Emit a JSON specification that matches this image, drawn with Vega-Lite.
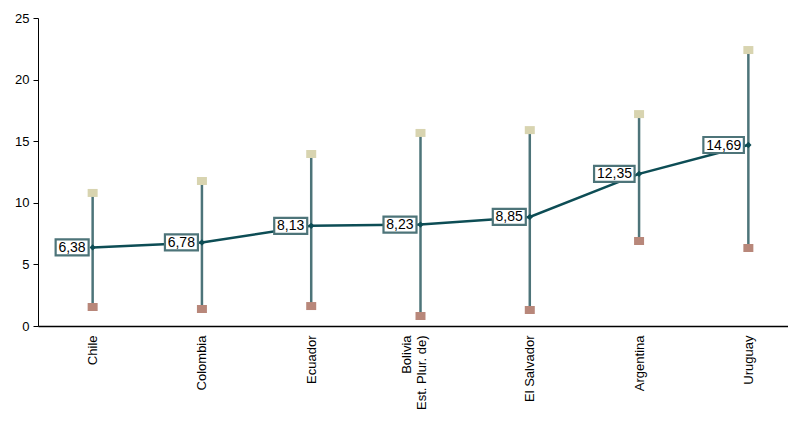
{
  "$schema": "https://vega.github.io/schema/vega-lite/v6.json",
  "width": 765,
  "height": 308,
  "autosize": {"type": "none"},
  "padding": {"left": 38, "top": 18, "right": 0, "bottom": 96},
  "background": "white",
  "config": {
    "view": {"stroke": null},
    "font": "Liberation Sans",
    "locale": {"number": {"decimal": ",", "thousands": ".", "grouping": [3], "currency": ["", ""]}}
  },
  "data": {
    "values": [
      {"country": "Chile", "value": 6.38, "min": 1.54, "max": 10.8},
      {"country": "Colombia", "value": 6.78, "min": 1.38, "max": 11.77},
      {"country": "Ecuador", "value": 8.13, "min": 1.62, "max": 13.96},
      {"country": "Bolivia\nEst. Plur. de)", "value": 8.23, "min": 0.81, "max": 15.67},
      {"country": "El Salvador", "value": 8.85, "min": 1.3, "max": 15.9},
      {"country": "Argentina", "value": 12.35, "min": 6.9, "max": 17.2},
      {"country": "Uruguay", "value": 14.69, "min": 6.33, "max": 22.4}
    ]
  },
  "encoding": {
    "x": {
      "field": "country", "type": "nominal", "sort": null,
      "scale": {"type": "point", "padding": 0.5},
      "axis": {"title": null, "labelAngle": -90, "ticks": false, "labelPadding": 9, "labelFontSize": 13, "labelColor": "#000", "domainColor": "#000", "domainWidth": 1.5, "labelLineHeight": 15, "labelLimit": 200, "labelExpr": "split(datum.label, '\\n')",
        "labelOffset": {"condition": {"test": "indexof(datum.value, 'Bolivia') >= 0", "value": -14}, "value": 0}}
    },
    "y": {"field": "value", "type": "quantitative", "scale": {"domain": [0, 25], "nice": false, "zero": true},
      "axis": {"title": null, "values": [0, 5, 10, 15, 20, 25], "grid": false, "labelFontSize": 13, "labelColor": "#000", "domainColor": "#000", "tickColor": "#000", "tickSize": 5, "labelPadding": 4}}
  },
  "layer": [
    {
      "mark": {"type": "rule", "color": "#4d7479", "strokeWidth": 2.5},
      "encoding": {
        "y": {"field": "min", "type": "quantitative"},
        "y2": {"field": "max"}
      }
    },
    {
      "mark": {"type": "line", "color": "#0d4d55", "strokeWidth": 2.5}
    },
    {
      "mark": {"type": "point", "shape": "diamond", "filled": true, "color": "#0d4d55", "size": 40, "opacity": 1}
    },
    {
      "mark": {"type": "point", "shape": "M -1 -0.8 H 1 V 0.8 H -1 Z", "size": 100, "filled": true, "color": "#d8d4b0", "opacity": 1},
      "encoding": {"y": {"field": "max", "type": "quantitative"}}
    },
    {
      "mark": {"type": "point", "shape": "M -1 -0.8 H 1 V 0.8 H -1 Z", "size": 100, "filled": true, "color": "#b8877a", "opacity": 1},
      "encoding": {"y": {"field": "min", "type": "quantitative"}}
    },
    {
      "transform": [{"filter": "datum.value < 10"}],
      "mark": {"type": "point", "shape": "M -3.7 -0.8 H -0.4 V 0.8 H -3.7 Z", "size": 400, "filled": true, "fill": "white", "stroke": "#4d7479", "strokeWidth": 2.2, "opacity": 1, "fillOpacity": 1, "strokeOpacity": 1}
    },
    {
      "transform": [{"filter": "datum.value >= 10"}],
      "mark": {"type": "point", "shape": "M -4.5 -0.8 H -0.45 V 0.8 H -4.5 Z", "size": 400, "filled": true, "fill": "white", "stroke": "#4d7479", "strokeWidth": 2.2, "opacity": 1, "fillOpacity": 1, "strokeOpacity": 1}
    },
    {
      "mark": {"type": "text", "align": "right", "baseline": "middle", "dx": -7, "dy": 0.5, "fontSize": 14, "color": "#000"},
      "encoding": {
        "text": {"field": "value", "type": "quantitative", "format": ".2f"}
      }
    }
  ]
}
